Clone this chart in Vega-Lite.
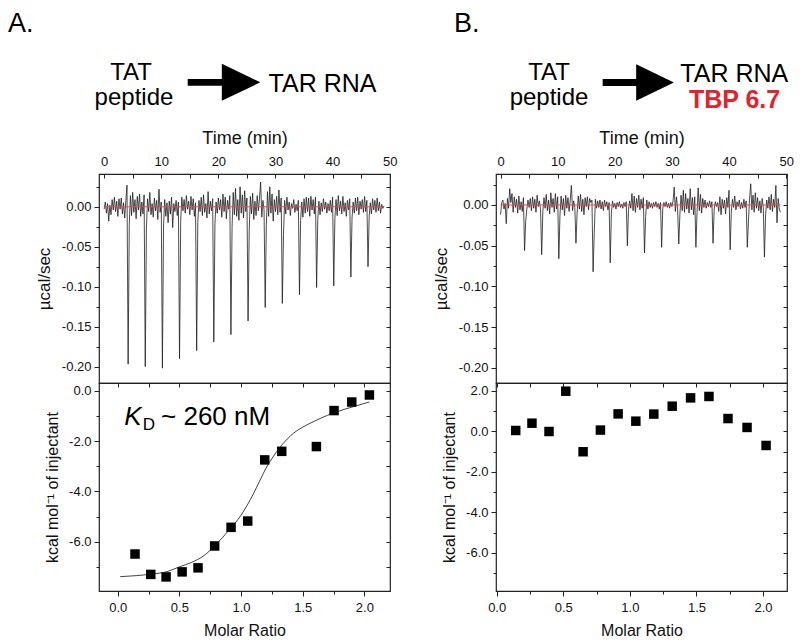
{
  "$schema": "https://vega.github.io/schema/vega-lite/v6.json",
  "padding": {"left": 7, "top": 9, "right": 0, "bottom": 0},
  "background": "white",
  "config": {
    "font": "Liberation Sans",
    "view": {"stroke": "#222", "strokeWidth": 1.2, "fill": null},
    "text": {"font": "Liberation Sans", "color": "#000"},
    "axis": {
      "labelFont": "Liberation Sans", "labelFontSize": 13, "labelColor": "#111",
      "titleFont": "Liberation Sans", "titleFontSize": 16, "titleFontWeight": "normal", "titleColor": "#111",
      "tickColor": "#222", "tickWidth": 1, "domain": false, "grid": false, "labelOverlap": false, "labelFlush": false
    }
  },
  "datasets": {
    "thermoA": [{"t":0,"v":-0.003},{"t":0.2,"v":0.006},{"t":0.4,"v":-0.008},{"t":0.6,"v":0.004},{"t":0.8,"v":-0.018},{"t":1,"v":0.002},{"t":1.2,"v":-0.01},{"t":1.4,"v":0.009},{"t":1.6,"v":-0.004},{"t":1.8,"v":0.012},{"t":2,"v":-0.006},{"t":2.2,"v":0.007},{"t":2.4,"v":-0.012},{"t":2.6,"v":0.01},{"t":2.8,"v":-0.003},{"t":3,"v":0.011},{"t":3.2,"v":-0.009},{"t":3.4,"v":0.005},{"t":3.6,"v":-0.014},{"t":3.8,"v":0.008},{"t":4,"v":0.027},{"t":4.2,"v":-0.197},{"t":4.4,"v":-0.022},{"t":4.6,"v":0.014},{"t":4.8,"v":-0.011},{"t":5,"v":0.018},{"t":5.2,"v":-0.007},{"t":5.4,"v":0.009},{"t":5.6,"v":-0.015},{"t":5.8,"v":0.013},{"t":6,"v":-0.004},{"t":6.2,"v":0.016},{"t":6.4,"v":-0.012},{"t":6.6,"v":0.006},{"t":6.8,"v":-0.009},{"t":7,"v":0.015},{"t":7.2,"v":-0.2},{"t":7.4,"v":-0.028},{"t":7.6,"v":0.01},{"t":7.8,"v":-0.006},{"t":8,"v":0.018},{"t":8.2,"v":-0.01},{"t":8.4,"v":0.004},{"t":8.6,"v":-0.013},{"t":8.8,"v":0.011},{"t":9,"v":-0.005},{"t":9.2,"v":0.008},{"t":9.4,"v":-0.016},{"t":9.6,"v":0.022},{"t":9.8,"v":-0.007},{"t":10,"v":0.006},{"t":10.2,"v":-0.202},{"t":10.4,"v":-0.024},{"t":10.6,"v":0.009},{"t":10.8,"v":-0.012},{"t":11,"v":0.005},{"t":11.2,"v":-0.02},{"t":11.4,"v":0.007},{"t":11.6,"v":-0.009},{"t":11.8,"v":0.012},{"t":12,"v":-0.026},{"t":12.2,"v":0.004},{"t":12.4,"v":-0.006},{"t":12.6,"v":0.008},{"t":12.8,"v":-0.011},{"t":13,"v":0.006},{"t":13.2,"v":-0.19},{"t":13.4,"v":-0.018},{"t":13.6,"v":0.012},{"t":13.8,"v":-0.005},{"t":14,"v":0.009},{"t":14.2,"v":-0.008},{"t":14.4,"v":0.014},{"t":14.6,"v":-0.003},{"t":14.8,"v":0.007},{"t":15,"v":-0.01},{"t":15.2,"v":0.013},{"t":15.4,"v":-0.004},{"t":15.6,"v":0.01},{"t":15.8,"v":-0.012},{"t":16,"v":0.005},{"t":16.2,"v":-0.18},{"t":16.4,"v":-0.02},{"t":16.6,"v":0.008},{"t":16.8,"v":-0.006},{"t":17,"v":0.012},{"t":17.2,"v":-0.011},{"t":17.4,"v":0.015},{"t":17.6,"v":-0.007},{"t":17.8,"v":0.004},{"t":18,"v":-0.014},{"t":18.2,"v":0.019},{"t":18.4,"v":-0.009},{"t":18.6,"v":0.007},{"t":18.8,"v":-0.005},{"t":19,"v":0.01},{"t":19.2,"v":-0.169},{"t":19.4,"v":-0.021},{"t":19.6,"v":0.006},{"t":19.8,"v":-0.008},{"t":20,"v":0.011},{"t":20.2,"v":-0.004},{"t":20.4,"v":0.009},{"t":20.6,"v":-0.013},{"t":20.8,"v":0.016},{"t":21,"v":-0.006},{"t":21.2,"v":0.012},{"t":21.4,"v":-0.015},{"t":21.6,"v":0.008},{"t":21.8,"v":-0.003},{"t":22,"v":0.014},{"t":22.2,"v":-0.16},{"t":22.4,"v":-0.025},{"t":22.6,"v":0.018},{"t":22.8,"v":-0.01},{"t":23,"v":0.023},{"t":23.2,"v":-0.012},{"t":23.4,"v":0.009},{"t":23.6,"v":-0.017},{"t":23.8,"v":0.025},{"t":24,"v":-0.008},{"t":24.2,"v":0.015},{"t":24.4,"v":-0.014},{"t":24.6,"v":0.02},{"t":24.8,"v":-0.006},{"t":25,"v":0.011},{"t":25.2,"v":-0.143},{"t":25.4,"v":-0.03},{"t":25.6,"v":0.013},{"t":25.8,"v":-0.009},{"t":26,"v":0.017},{"t":26.2,"v":-0.016},{"t":26.4,"v":0.007},{"t":26.6,"v":-0.011},{"t":26.8,"v":0.014},{"t":27,"v":-0.005},{"t":27.2,"v":0.01},{"t":27.4,"v":0.031},{"t":27.6,"v":-0.013},{"t":27.8,"v":0.008},{"t":28,"v":-0.004},{"t":28.2,"v":-0.126},{"t":28.4,"v":-0.022},{"t":28.6,"v":0.019},{"t":28.8,"v":-0.012},{"t":29,"v":0.025},{"t":29.2,"v":-0.008},{"t":29.4,"v":0.016},{"t":29.6,"v":-0.018},{"t":29.8,"v":0.009},{"t":30,"v":-0.006},{"t":30.2,"v":0.013},{"t":30.4,"v":-0.01},{"t":30.6,"v":0.021},{"t":30.8,"v":-0.007},{"t":31,"v":0.011},{"t":31.2,"v":-0.121},{"t":31.4,"v":-0.035},{"t":31.6,"v":0.008},{"t":31.8,"v":-0.009},{"t":32,"v":0.012},{"t":32.2,"v":-0.004},{"t":32.4,"v":0.006},{"t":32.6,"v":-0.011},{"t":32.8,"v":0.004},{"t":33,"v":-0.002},{"t":33.2,"v":0.009},{"t":33.4,"v":-0.007},{"t":33.6,"v":0.003},{"t":33.8,"v":-0.005},{"t":34,"v":0.008},{"t":34.2,"v":-0.11},{"t":34.4,"v":-0.017},{"t":34.6,"v":0.006},{"t":34.8,"v":-0.013},{"t":35,"v":0.01},{"t":35.2,"v":-0.008},{"t":35.4,"v":0.012},{"t":35.6,"v":-0.006},{"t":35.8,"v":0.011},{"t":36,"v":-0.012},{"t":36.2,"v":0.013},{"t":36.4,"v":-0.004},{"t":36.6,"v":0.009},{"t":36.8,"v":-0.009},{"t":37,"v":0.012},{"t":37.2,"v":-0.101},{"t":37.4,"v":-0.016},{"t":37.6,"v":0.007},{"t":37.8,"v":-0.01},{"t":38,"v":0.005},{"t":38.2,"v":-0.006},{"t":38.4,"v":0.01},{"t":38.6,"v":-0.003},{"t":38.8,"v":0.006},{"t":39,"v":-0.008},{"t":39.2,"v":0.004},{"t":39.4,"v":-0.005},{"t":39.6,"v":0.008},{"t":39.8,"v":-0.007},{"t":40,"v":0.012},{"t":40.2,"v":-0.099},{"t":40.4,"v":-0.015},{"t":40.6,"v":0.009},{"t":40.8,"v":-0.011},{"t":41,"v":0.014},{"t":41.2,"v":-0.005},{"t":41.4,"v":0.007},{"t":41.6,"v":-0.009},{"t":41.8,"v":0.013},{"t":42,"v":-0.006},{"t":42.2,"v":0.005},{"t":42.4,"v":-0.012},{"t":42.6,"v":0.008},{"t":42.8,"v":-0.004},{"t":43,"v":0.01},{"t":43.2,"v":-0.088},{"t":43.4,"v":-0.014},{"t":43.6,"v":0.006},{"t":43.8,"v":-0.008},{"t":44,"v":0.011},{"t":44.2,"v":-0.005},{"t":44.4,"v":0.012},{"t":44.6,"v":-0.01},{"t":44.8,"v":0.007},{"t":45,"v":-0.003},{"t":45.2,"v":0.009},{"t":45.4,"v":-0.007},{"t":45.6,"v":0.013},{"t":45.8,"v":-0.006},{"t":46,"v":0.008},{"t":46.2,"v":-0.075},{"t":46.4,"v":-0.013},{"t":46.6,"v":0.005},{"t":46.8,"v":-0.009},{"t":47,"v":0.01},{"t":47.2,"v":-0.004},{"t":47.4,"v":0.008},{"t":47.6,"v":-0.007},{"t":47.8,"v":0.011},{"t":48,"v":-0.005},{"t":48.2,"v":0.006},{"t":48.4,"v":-0.008},{"t":48.6,"v":0.003},{"t":48.8,"v":-0.002},{"t":49,"v":0.001}],
    "thermoB": [{"t":0,"v":-0.012},{"t":0.2,"v":0.003},{"t":0.4,"v":0.006},{"t":0.6,"v":-0.005},{"t":0.8,"v":0.002},{"t":1,"v":-0.023},{"t":1.2,"v":0.008},{"t":1.4,"v":-0.004},{"t":1.6,"v":0.02},{"t":1.8,"v":0.003},{"t":2,"v":0.014},{"t":2.2,"v":-0.009},{"t":2.4,"v":0.01},{"t":2.6,"v":-0.003},{"t":2.8,"v":0.007},{"t":3,"v":-0.01},{"t":3.2,"v":0.011},{"t":3.4,"v":-0.006},{"t":3.6,"v":0.004},{"t":3.8,"v":-0.008},{"t":4,"v":0.009},{"t":4.2,"v":-0.056},{"t":4.4,"v":-0.02},{"t":4.6,"v":-0.005},{"t":4.8,"v":0.006},{"t":5,"v":-0.003},{"t":5.2,"v":0.008},{"t":5.4,"v":-0.007},{"t":5.6,"v":0.01},{"t":5.8,"v":-0.004},{"t":6,"v":0.007},{"t":6.2,"v":-0.009},{"t":6.4,"v":0.012},{"t":6.6,"v":-0.002},{"t":6.8,"v":0.005},{"t":7,"v":-0.006},{"t":7.2,"v":-0.061},{"t":7.4,"v":-0.008},{"t":7.6,"v":0.009},{"t":7.8,"v":-0.004},{"t":8,"v":0.013},{"t":8.2,"v":-0.007},{"t":8.4,"v":0.006},{"t":8.6,"v":-0.011},{"t":8.8,"v":0.015},{"t":9,"v":-0.003},{"t":9.2,"v":0.008},{"t":9.4,"v":-0.009},{"t":9.6,"v":0.014},{"t":9.8,"v":-0.005},{"t":10,"v":0.01},{"t":10.2,"v":-0.066},{"t":10.4,"v":-0.012},{"t":10.6,"v":0.011},{"t":10.8,"v":-0.006},{"t":11,"v":0.008},{"t":11.2,"v":-0.013},{"t":11.4,"v":0.012},{"t":11.6,"v":-0.004},{"t":11.8,"v":0.009},{"t":12,"v":-0.008},{"t":12.2,"v":0.006},{"t":12.4,"v":0.024},{"t":12.6,"v":-0.007},{"t":12.8,"v":0.005},{"t":13,"v":-0.003},{"t":13.2,"v":-0.047},{"t":13.4,"v":-0.01},{"t":13.6,"v":0.011},{"t":13.8,"v":-0.005},{"t":14,"v":0.013},{"t":14.2,"v":-0.008},{"t":14.4,"v":0.007},{"t":14.6,"v":-0.012},{"t":14.8,"v":0.009},{"t":15,"v":-0.002},{"t":15.2,"v":0.01},{"t":15.4,"v":-0.006},{"t":15.6,"v":0.008},{"t":15.8,"v":0.003},{"t":16,"v":0.006},{"t":16.2,"v":-0.082},{"t":16.4,"v":-0.035},{"t":16.6,"v":0.007},{"t":16.8,"v":-0.004},{"t":17,"v":0.005},{"t":17.2,"v":-0.003},{"t":17.4,"v":0.006},{"t":17.6,"v":-0.005},{"t":17.8,"v":0.004},{"t":18,"v":-0.007},{"t":18.2,"v":0.006},{"t":18.4,"v":-0.002},{"t":18.6,"v":0.004},{"t":18.8,"v":-0.006},{"t":19,"v":0.003},{"t":19.2,"v":-0.071},{"t":19.4,"v":-0.01},{"t":19.6,"v":0.005},{"t":19.8,"v":-0.003},{"t":20,"v":0.002},{"t":20.2,"v":-0.005},{"t":20.4,"v":0.003},{"t":20.6,"v":-0.002},{"t":20.8,"v":0.004},{"t":21,"v":-0.003},{"t":21.2,"v":0.001},{"t":21.4,"v":-0.004},{"t":21.6,"v":0.003},{"t":21.8,"v":-0.002},{"t":22,"v":0.004},{"t":22.2,"v":-0.05},{"t":22.4,"v":-0.006},{"t":22.6,"v":0.005},{"t":22.8,"v":-0.004},{"t":23,"v":0.014},{"t":23.2,"v":-0.007},{"t":23.4,"v":0.011},{"t":23.6,"v":-0.009},{"t":23.8,"v":0.008},{"t":24,"v":-0.003},{"t":24.2,"v":0.012},{"t":24.4,"v":-0.006},{"t":24.6,"v":0.007},{"t":24.8,"v":-0.004},{"t":25,"v":0.009},{"t":25.2,"v":-0.059},{"t":25.4,"v":-0.014},{"t":25.6,"v":0.006},{"t":25.8,"v":-0.005},{"t":26,"v":0.004},{"t":26.2,"v":-0.003},{"t":26.4,"v":0.002},{"t":26.6,"v":-0.004},{"t":26.8,"v":0.003},{"t":27,"v":-0.002},{"t":27.2,"v":0.004},{"t":27.4,"v":-0.003},{"t":27.6,"v":0.002},{"t":27.8,"v":-0.005},{"t":28,"v":0.003},{"t":28.2,"v":-0.052},{"t":28.4,"v":-0.004},{"t":28.6,"v":0.003},{"t":28.8,"v":-0.002},{"t":29,"v":0.004},{"t":29.2,"v":-0.003},{"t":29.4,"v":0.002},{"t":29.6,"v":-0.004},{"t":29.8,"v":0.003},{"t":30,"v":-0.002},{"t":30.2,"v":0.005},{"t":30.4,"v":0.022},{"t":30.6,"v":-0.008},{"t":30.8,"v":0.01},{"t":31,"v":-0.006},{"t":31.2,"v":-0.048},{"t":31.4,"v":-0.011},{"t":31.6,"v":0.012},{"t":31.8,"v":-0.007},{"t":32,"v":0.018},{"t":32.2,"v":-0.009},{"t":32.4,"v":0.014},{"t":32.6,"v":-0.005},{"t":32.8,"v":0.008},{"t":33,"v":-0.01},{"t":33.2,"v":0.02},{"t":33.4,"v":-0.006},{"t":33.6,"v":0.009},{"t":33.8,"v":-0.012},{"t":34,"v":0.01},{"t":34.2,"v":-0.052},{"t":34.4,"v":-0.009},{"t":34.6,"v":0.021},{"t":34.8,"v":-0.007},{"t":35,"v":0.013},{"t":35.2,"v":-0.01},{"t":35.4,"v":0.008},{"t":35.6,"v":-0.003},{"t":35.8,"v":0.006},{"t":36,"v":-0.004},{"t":36.2,"v":0.003},{"t":36.4,"v":-0.002},{"t":36.6,"v":0.005},{"t":36.8,"v":-0.003},{"t":37,"v":0.004},{"t":37.2,"v":-0.047},{"t":37.4,"v":-0.005},{"t":37.6,"v":0.004},{"t":37.8,"v":-0.002},{"t":38,"v":0.003},{"t":38.2,"v":-0.008},{"t":38.4,"v":0.01},{"t":38.6,"v":-0.012},{"t":38.8,"v":0.007},{"t":39,"v":-0.004},{"t":39.2,"v":0.006},{"t":39.4,"v":-0.011},{"t":39.6,"v":0.009},{"t":39.8,"v":-0.003},{"t":40,"v":0.018},{"t":40.2,"v":-0.055},{"t":40.4,"v":-0.008},{"t":40.6,"v":0.007},{"t":40.8,"v":-0.003},{"t":41,"v":0.011},{"t":41.2,"v":-0.006},{"t":41.4,"v":0.004},{"t":41.6,"v":-0.002},{"t":41.8,"v":0.006},{"t":42,"v":-0.005},{"t":42.2,"v":0.003},{"t":42.4,"v":-0.004},{"t":42.6,"v":0.007},{"t":42.8,"v":-0.003},{"t":43,"v":0.005},{"t":43.2,"v":-0.052},{"t":43.4,"v":-0.02},{"t":43.6,"v":0.008},{"t":43.8,"v":0.026},{"t":44,"v":-0.006},{"t":44.2,"v":0.012},{"t":44.4,"v":-0.009},{"t":44.6,"v":0.015},{"t":44.8,"v":-0.004},{"t":45,"v":0.009},{"t":45.2,"v":-0.007},{"t":45.4,"v":0.005},{"t":45.6,"v":-0.01},{"t":45.8,"v":0.008},{"t":46,"v":-0.003},{"t":46.2,"v":-0.064},{"t":46.4,"v":-0.012},{"t":46.6,"v":0.006},{"t":46.8,"v":-0.004},{"t":47,"v":0.01},{"t":47.2,"v":-0.006},{"t":47.4,"v":0.013},{"t":47.6,"v":-0.008},{"t":47.8,"v":0.007},{"t":48,"v":-0.003},{"t":48.2,"v":0.024},{"t":48.4,"v":-0.022},{"t":48.6,"v":0.008},{"t":48.8,"v":-0.005},{"t":49,"v":-0.009}],
    "heatsA": [{"ratio":0.14,"heat":-6.49},{"ratio":0.268,"heat":-7.3},{"ratio":0.392,"heat":-7.4},{"ratio":0.522,"heat":-7.2},{"ratio":0.651,"heat":-7.04},{"ratio":0.786,"heat":-6.17},{"ratio":0.919,"heat":-5.43},{"ratio":1.054,"heat":-5.18},{"ratio":1.192,"heat":-2.75},{"ratio":1.33,"heat":-2.41},{"ratio":1.611,"heat":-2.22},{"ratio":1.754,"heat":-0.79},{"ratio":1.898,"heat":-0.45},{"ratio":2.041,"heat":-0.17}],
    "fitA": [{"ratio":0.02,"heat":-7.39},{"ratio":0.15,"heat":-7.35},{"ratio":0.27,"heat":-7.29},{"ratio":0.4,"heat":-7.19},{"ratio":0.5,"heat":-7.0},{"ratio":0.6,"heat":-6.82},{"ratio":0.7,"heat":-6.55},{"ratio":0.8,"heat":-6.1},{"ratio":0.9,"heat":-5.55},{"ratio":1.0,"heat":-4.95},{"ratio":1.05,"heat":-4.55},{"ratio":1.1,"heat":-4.1},{"ratio":1.15,"heat":-3.6},{"ratio":1.2,"heat":-3.1},{"ratio":1.25,"heat":-2.7},{"ratio":1.3,"heat":-2.35},{"ratio":1.35,"heat":-2.05},{"ratio":1.4,"heat":-1.8},{"ratio":1.45,"heat":-1.6},{"ratio":1.5,"heat":-1.45},{"ratio":1.6,"heat":-1.2},{"ratio":1.7,"heat":-0.98},{"ratio":1.8,"heat":-0.8},{"ratio":1.9,"heat":-0.65},{"ratio":2.04,"heat":-0.45}],
    "heatsB": [{"ratio":0.143,"heat":0.05},{"ratio":0.265,"heat":0.41},{"ratio":0.393,"heat":0.0},{"ratio":0.519,"heat":1.99},{"ratio":0.649,"heat":-1.0},{"ratio":0.779,"heat":0.07},{"ratio":0.912,"heat":0.87},{"ratio":1.045,"heat":0.51},{"ratio":1.18,"heat":0.86},{"ratio":1.318,"heat":1.25},{"ratio":1.456,"heat":1.66},{"ratio":1.594,"heat":1.73},{"ratio":1.737,"heat":0.64},{"ratio":1.88,"heat":0.2},{"ratio":2.023,"heat":-0.69}]
  },
  "columns": 2,
  "spacing": {"row": 0, "column": 106},
  "bounds": "flush",
  "concat": [
    {
      "width": 291, "height": 209,
      "resolve": {"axis": {"x": "independent", "y": "independent"}},
      "layer": [
        {
          "data": {"name": "thermoA"},
          "mark": {"type": "line", "color": "#1e1e1e", "strokeWidth": 0.8, "clip": true},
          "encoding": {
            "x": {"field": "t", "type": "quantitative", "scale": {"domain": [-0.9, 50.05], "nice": false, "zero": false},
              "axis": {"orient": "top", "title": "Time (min)", "titleFontSize": 18, "values": [0,5,10,15,20,25,30,35,40,45,50],
                "labelExpr": "datum.value % 10 == 0 ? format(datum.value, 'd') : ''",
                "tickSize": 4, "offset": -4, "labelPadding": 6, "titlePadding": 8}},
            "y": {"field": "v", "type": "quantitative", "scale": {"domain": [-0.2205, 0.041], "nice": false, "zero": false},
              "axis": {"orient": "left", "title": "µcal/sec", "titleFontSize": 17, "values": [-0.2,-0.175,-0.15,-0.125,-0.1,-0.075,-0.05,-0.025,0,0.025],
                "labelExpr": "abs(datum.value*20-round(datum.value*20)) < 0.001 ? replace(format(datum.value, '.2f'), '−', '-') : ''",
                "tickSize": {"condition": {"test": "abs(datum.value*20-round(datum.value*20)) < 0.001", "value": 5}, "value": 3},
                "labelPadding": 3, "titlePadding": 8}}
          }
        },
        {
          "data": {"values": [{"t": 0, "t2": 49, "v": 0}]},
          "mark": {"type": "rule", "color": "#e8474c", "strokeWidth": 1},
          "encoding": {
            "x": {"field": "t", "type": "quantitative", "scale": {"domain": [-0.9, 50.05], "nice": false, "zero": false}, "axis": null},
            "x2": {"field": "t2"},
            "y": {"field": "v", "type": "quantitative", "scale": {"domain": [-0.2205, 0.041], "nice": false, "zero": false},
              "axis": {"orient": "right", "title": null, "labels": false, "values": [-0.2,-0.175,-0.15,-0.125,-0.1,-0.075,-0.05,-0.025,0,0.025],
                "tickSize": 4, "offset": -4}}
          }
        },
        {
          "data": {"values": [{"t": -16.83, "v": 0.2187, "label": "A."}]},
          "mark": {"type": "text", "fontSize": 27, "align": "left", "baseline": "alphabetic"},
          "encoding": {
            "x": {"field": "t", "type": "quantitative", "scale": {"domain": [-0.9, 50.05], "nice": false, "zero": false}, "axis": null},
            "y": {"field": "v", "type": "quantitative", "scale": {"domain": [-0.2205, 0.041], "nice": false, "zero": false}, "axis": null},
            "text": {"field": "label"}
          }
        },
        {
          "data": {"values": [{"t": 4.703, "v": 0.1586, "label": "TAT"}, {"t": 5.228, "v": 0.1273, "label": "peptide"}]},
          "mark": {"type": "text", "fontSize": 24, "align": "center", "baseline": "alphabetic"},
          "encoding": {
            "x": {"field": "t", "type": "quantitative", "scale": {"domain": [-0.9, 50.05], "nice": false, "zero": false}, "axis": null},
            "y": {"field": "v", "type": "quantitative", "scale": {"domain": [-0.2205, 0.041], "nice": false, "zero": false}, "axis": null},
            "text": {"field": "label"}
          }
        },
        {
          "data": {"values": [{"t": 38.23, "v": 0.1436, "label": "TAR RNA"}]},
          "mark": {"type": "text", "fontSize": 25, "align": "center", "baseline": "alphabetic"},
          "encoding": {
            "x": {"field": "t", "type": "quantitative", "scale": {"domain": [-0.9, 50.05], "nice": false, "zero": false}, "axis": null},
            "y": {"field": "v", "type": "quantitative", "scale": {"domain": [-0.2205, 0.041], "nice": false, "zero": false}, "axis": null},
            "text": {"field": "label"}
          }
        },
        {
          "data": {"values": [{"t": 20.986, "v": 0.1557}]},
          "mark": {"type": "point", "shape": "M -1 -0.095 L -0.06 -0.095 L -0.06 -0.51 L 1 0 L -0.06 0.51 L -0.06 0.095 L -1 0.095 Z", "size": 5271, "filled": true, "color": "#000", "opacity": 1, "strokeWidth": 0},
          "encoding": {
            "x": {"field": "t", "type": "quantitative", "scale": {"domain": [-0.9, 50.05], "nice": false, "zero": false}, "axis": null},
            "y": {"field": "v", "type": "quantitative", "scale": {"domain": [-0.2205, 0.041], "nice": false, "zero": false}, "axis": null}
          }
        }
      ]
    },
    {
      "width": 291, "height": 209,
      "resolve": {"axis": {"x": "independent", "y": "independent"}},
      "layer": [
        {
          "data": {"name": "thermoB"},
          "mark": {"type": "line", "color": "#1e1e1e", "strokeWidth": 0.8, "clip": true},
          "encoding": {
            "x": {"field": "t", "type": "quantitative", "scale": {"domain": [-0.8, 50.15], "nice": false, "zero": false},
              "axis": {"orient": "top", "title": "Time (min)", "titleFontSize": 18, "values": [0,5,10,15,20,25,30,35,40,45,50],
                "labelExpr": "datum.value % 10 == 0 ? format(datum.value, 'd') : ''",
                "tickSize": 4, "offset": -4, "labelPadding": 6, "titlePadding": 8}},
            "y": {"field": "v", "type": "quantitative", "scale": {"domain": [-0.2185, 0.038], "nice": false, "zero": false},
              "axis": {"orient": "left", "title": "µcal/sec", "titleFontSize": 17, "values": [-0.2,-0.175,-0.15,-0.125,-0.1,-0.075,-0.05,-0.025,0,0.025],
                "labelExpr": "abs(datum.value*20-round(datum.value*20)) < 0.001 ? replace(format(datum.value, '.2f'), '−', '-') : ''",
                "tickSize": {"condition": {"test": "abs(datum.value*20-round(datum.value*20)) < 0.001", "value": 5}, "value": 3},
                "labelPadding": 3, "titlePadding": 8}}
          }
        },
        {
          "data": {"values": [{"t": 0, "t2": 49, "v": 0}]},
          "mark": {"type": "rule", "color": "#e8474c", "strokeWidth": 1},
          "encoding": {
            "x": {"field": "t", "type": "quantitative", "scale": {"domain": [-0.8, 50.15], "nice": false, "zero": false}, "axis": null},
            "x2": {"field": "t2"},
            "y": {"field": "v", "type": "quantitative", "scale": {"domain": [-0.2185, 0.038], "nice": false, "zero": false},
              "axis": {"orient": "right", "title": null, "labels": false, "values": [-0.2,-0.175,-0.15,-0.125,-0.1,-0.075,-0.05,-0.025,0,0.025],
                "tickSize": 4, "offset": -4}}
          }
        },
        {
          "data": {"values": [{"t": -8.154, "v": 0.2123, "label": "B."}]},
          "mark": {"type": "text", "fontSize": 27, "align": "left", "baseline": "alphabetic"},
          "encoding": {
            "x": {"field": "t", "type": "quantitative", "scale": {"domain": [-0.8, 50.15], "nice": false, "zero": false}, "axis": null},
            "y": {"field": "v", "type": "quantitative", "scale": {"domain": [-0.2185, 0.038], "nice": false, "zero": false}, "axis": null},
            "text": {"field": "label"}
          }
        },
        {
          "data": {"values": [{"t": 8.48, "v": 0.1534, "label": "TAT"}, {"t": 8.48, "v": 0.1227, "label": "peptide"}]},
          "mark": {"type": "text", "fontSize": 24, "align": "center", "baseline": "alphabetic"},
          "encoding": {
            "x": {"field": "t", "type": "quantitative", "scale": {"domain": [-0.8, 50.15], "nice": false, "zero": false}, "axis": null},
            "y": {"field": "v", "type": "quantitative", "scale": {"domain": [-0.2185, 0.038], "nice": false, "zero": false}, "axis": null},
            "text": {"field": "label"}
          }
        },
        {
          "data": {"values": [{"t": 40.92, "v": 0.1513, "label": "TAR RNA"}]},
          "mark": {"type": "text", "fontSize": 25, "align": "center", "baseline": "alphabetic"},
          "encoding": {
            "x": {"field": "t", "type": "quantitative", "scale": {"domain": [-0.8, 50.15], "nice": false, "zero": false}, "axis": null},
            "y": {"field": "v", "type": "quantitative", "scale": {"domain": [-0.2185, 0.038], "nice": false, "zero": false}, "axis": null},
            "text": {"field": "label"}
          }
        },
        {
          "data": {"values": [{"t": 40.96, "v": 0.119, "label": "TBP 6.7"}]},
          "mark": {"type": "text", "fontSize": 25, "fontWeight": "bold", "color": "#e3232b", "align": "center", "baseline": "alphabetic"},
          "encoding": {
            "x": {"field": "t", "type": "quantitative", "scale": {"domain": [-0.8, 50.15], "nice": false, "zero": false}, "axis": null},
            "y": {"field": "v", "type": "quantitative", "scale": {"domain": [-0.2185, 0.038], "nice": false, "zero": false}, "axis": null},
            "text": {"field": "label"}
          }
        },
        {
          "data": {"values": [{"t": 24.115, "v": 0.1503}]},
          "mark": {"type": "point", "shape": "M -1 -0.095 L -0.06 -0.095 L -0.06 -0.51 L 1 0 L -0.06 0.51 L -0.06 0.095 L -1 0.095 Z", "size": 5084, "filled": true, "color": "#000", "opacity": 1, "strokeWidth": 0},
          "encoding": {
            "x": {"field": "t", "type": "quantitative", "scale": {"domain": [-0.8, 50.15], "nice": false, "zero": false}, "axis": null},
            "y": {"field": "v", "type": "quantitative", "scale": {"domain": [-0.2185, 0.038], "nice": false, "zero": false}, "axis": null}
          }
        }
      ]
    },
    {
      "width": 291, "height": 208,
      "resolve": {"axis": {"x": "independent", "y": "independent"}},
      "layer": [
        {
          "data": {"name": "heatsA"},
          "mark": {"type": "point", "shape": "square", "size": 90, "filled": true, "color": "#000", "opacity": 1},
          "encoding": {
            "x": {"field": "ratio", "type": "quantitative", "scale": {"domain": [-0.152, 2.208], "nice": false, "zero": false},
              "axis": {"orient": "bottom", "title": "Molar Ratio", "values": [0,0.25,0.5,0.75,1,1.25,1.5,1.75,2],
                "labelExpr": "abs(datum.value*2-round(datum.value*2)) < 0.001 ? format(datum.value, '.1f') : ''",
                "tickSize": {"condition": {"test": "abs(datum.value*2-round(datum.value*2)) < 0.001", "value": 5}, "value": 3},
                "labelPadding": 5, "titlePadding": 8}},
            "y": {"field": "heat", "type": "quantitative", "scale": {"domain": [-7.96, 0.306], "nice": false, "zero": false},
              "axis": {"orient": "left", "title": "kcal mol⁻¹ of injectant", "values": [-7,-6,-5,-4,-3,-2,-1,0],
                "labelExpr": "datum.value % 2 == 0 ? replace(format(datum.value, '.1f'), '−', '-') : ''",
                "tickSize": {"condition": {"test": "datum.value % 2 == 0", "value": 5}, "value": 3},
                "labelPadding": 3, "titlePadding": 8}}
          }
        },
        {
          "data": {"name": "fitA"},
          "mark": {"type": "line", "color": "#111", "strokeWidth": 0.8, "interpolate": "monotone"},
          "encoding": {
            "x": {"field": "ratio", "type": "quantitative", "scale": {"domain": [-0.152, 2.208], "nice": false, "zero": false},
              "axis": {"orient": "top", "title": null, "labels": false, "values": [0,0.25,0.5,0.75,1,1.25,1.5,1.75,2],
                "tickSize": 4, "offset": -4}},
            "y": {"field": "heat", "type": "quantitative", "scale": {"domain": [-7.96, 0.306], "nice": false, "zero": false},
              "axis": {"orient": "right", "title": null, "labels": false, "values": [-7,-6,-5,-4,-3,-2,-1,0],
                "tickSize": 4, "offset": -4}}
          }
        },
        {
          "data": {"values": [{"ratio": 0.053, "heat": -1.363, "label": "K"}]},
          "mark": {"type": "text", "fontSize": 26, "fontStyle": "italic", "align": "left", "baseline": "alphabetic"},
          "encoding": {
            "x": {"field": "ratio", "type": "quantitative", "scale": {"domain": [-0.152, 2.208], "nice": false, "zero": false}, "axis": null},
            "y": {"field": "heat", "type": "quantitative", "scale": {"domain": [-7.96, 0.306], "nice": false, "zero": false}, "axis": null},
            "text": {"field": "label"}
          }
        },
        {
          "data": {"values": [{"ratio": 0.203, "heat": -1.57, "label": "D"}]},
          "mark": {"type": "text", "fontSize": 17, "align": "left", "baseline": "alphabetic"},
          "encoding": {
            "x": {"field": "ratio", "type": "quantitative", "scale": {"domain": [-0.152, 2.208], "nice": false, "zero": false}, "axis": null},
            "y": {"field": "heat", "type": "quantitative", "scale": {"domain": [-7.96, 0.306], "nice": false, "zero": false}, "axis": null},
            "text": {"field": "label"}
          }
        },
        {
          "data": {"values": [{"ratio": 0.351, "heat": -1.363, "label": "~ 260 nM"}]},
          "mark": {"type": "text", "fontSize": 26, "align": "left", "baseline": "alphabetic"},
          "encoding": {
            "x": {"field": "ratio", "type": "quantitative", "scale": {"domain": [-0.152, 2.208], "nice": false, "zero": false}, "axis": null},
            "y": {"field": "heat", "type": "quantitative", "scale": {"domain": [-7.96, 0.306], "nice": false, "zero": false}, "axis": null},
            "text": {"field": "label"}
          }
        }
      ]
    },
    {
      "width": 291, "height": 208,
      "resolve": {"axis": {"x": "independent", "y": "independent"}},
      "layer": [
        {
          "data": {"name": "heatsB"},
          "mark": {"type": "point", "shape": "square", "size": 90, "filled": true, "color": "#000", "opacity": 1},
          "encoding": {
            "x": {"field": "ratio", "type": "quantitative", "scale": {"domain": [-0.005, 2.18], "nice": false, "zero": false},
              "axis": {"orient": "bottom", "title": "Molar Ratio", "values": [0,0.25,0.5,0.75,1,1.25,1.5,1.75,2],
                "labelExpr": "abs(datum.value*2-round(datum.value*2)) < 0.001 ? format(datum.value, '.1f') : ''",
                "tickSize": {"condition": {"test": "abs(datum.value*2-round(datum.value*2)) < 0.001", "value": 5}, "value": 3},
                "labelPadding": 5, "titlePadding": 8}},
            "y": {"field": "heat", "type": "quantitative", "scale": {"domain": [-7.877, 2.395], "nice": false, "zero": false},
              "axis": {"orient": "left", "title": "kcal mol⁻¹ of injectant", "values": [-7,-6,-5,-4,-3,-2,-1,0,1,2],
                "labelExpr": "datum.value % 2 == 0 ? replace(format(datum.value, '.1f'), '−', '-') : ''",
                "tickSize": {"condition": {"test": "datum.value % 2 == 0", "value": 5}, "value": 3},
                "labelPadding": 3, "titlePadding": 8}}
          }
        },
        {
          "data": {"name": "heatsB"},
          "mark": {"type": "point", "opacity": 0},
          "encoding": {
            "x": {"field": "ratio", "type": "quantitative", "scale": {"domain": [-0.005, 2.18], "nice": false, "zero": false},
              "axis": {"orient": "top", "title": null, "labels": false, "values": [0,0.25,0.5,0.75,1,1.25,1.5,1.75,2],
                "tickSize": 4, "offset": -4}},
            "y": {"field": "heat", "type": "quantitative", "scale": {"domain": [-7.877, 2.395], "nice": false, "zero": false},
              "axis": {"orient": "right", "title": null, "labels": false, "values": [-7,-6,-5,-4,-3,-2,-1,0,1,2],
                "tickSize": 4, "offset": -4}}
          }
        }
      ]
    }
  ]
}
